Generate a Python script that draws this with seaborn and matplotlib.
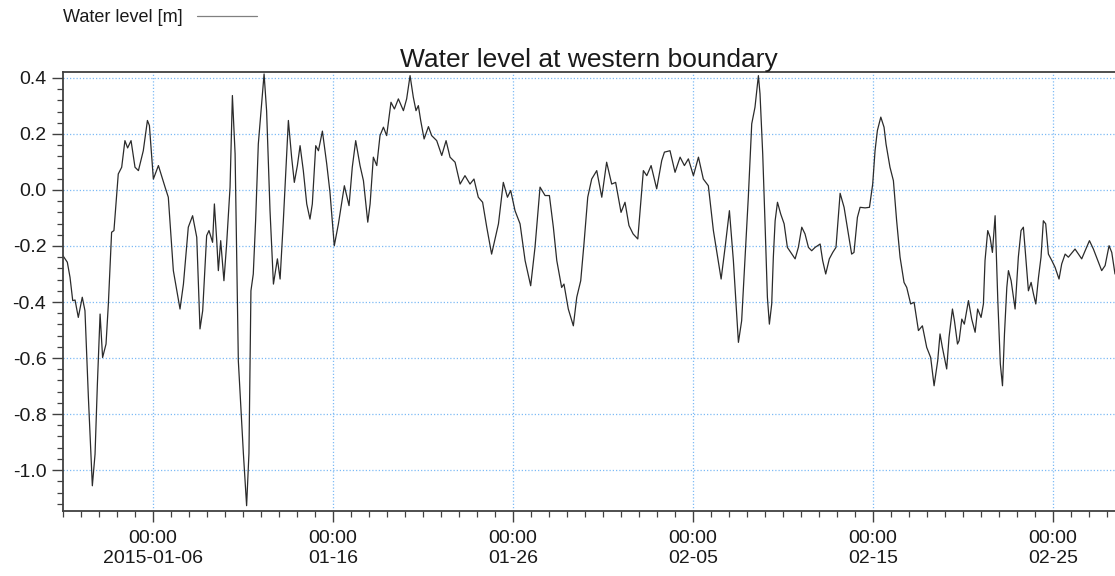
import numpy as np
import pandas as pd
import matplotlib
matplotlib.use("Agg")
import matplotlib.pyplot as plt
import matplotlib.dates as mdates
from matplotlib.lines import Line2D
from matplotlib.ticker import MultipleLocator, FormatStrFormatter
import seaborn as sns

# Time since 2015-01-01 00:00 in days, and the water level in metres
day_offset = [
    0.00, 0.24, 0.39, 0.54, 0.67, 0.85, 1.07, 1.22, 1.41, 1.63, 1.78, 1.91, 2.06, 2.20, 2.39, 2.52,
    2.70, 2.83, 3.07, 3.26, 3.44, 3.59, 3.78, 4.00, 4.19, 4.46, 4.69, 4.80, 5.02, 5.30, 5.67, 5.85,
    6.13, 6.50, 6.69, 6.96, 7.20, 7.43, 7.61, 7.76, 7.98, 8.11, 8.31, 8.41, 8.54, 8.63, 8.76, 8.94,
    9.09, 9.28, 9.41, 9.56, 9.74, 10.02, 10.20, 10.33, 10.44, 10.57, 10.70, 10.85, 11.00, 11.17,
    11.31, 11.50, 11.69, 11.91, 12.06, 12.24, 12.52, 12.70, 12.85, 13.02, 13.17, 13.35, 13.54, 13.72,
    13.85, 14.04, 14.19, 14.41, 14.65, 14.83, 15.07, 15.30, 15.63, 15.89, 16.07, 16.26, 16.50, 16.69,
    16.93, 17.06, 17.24, 17.43, 17.61, 17.80, 17.98, 18.22, 18.41, 18.63, 18.91, 19.09, 19.28, 19.46,
    19.61, 19.74, 19.87, 20.06, 20.30, 20.48, 20.76, 21.04, 21.28, 21.50, 21.78, 22.06, 22.33, 22.61,
    22.83, 23.07, 23.31, 23.54, 23.81, 24.19, 24.46, 24.69, 24.87, 25.11, 25.39, 25.67, 25.98, 26.22,
    26.50, 26.78, 27.02, 27.24, 27.43, 27.70, 27.83, 28.07, 28.35, 28.54, 28.76, 28.94, 29.15, 29.37,
    29.65, 29.93, 30.20, 30.48, 30.70, 31.00, 31.22, 31.44, 31.67, 31.93, 32.24, 32.43, 32.67, 32.98,
    33.26, 33.41, 33.72, 34.00, 34.28, 34.52, 34.74, 35.02, 35.30, 35.57, 35.85, 36.13, 36.56, 36.78,
    37.02, 37.24, 37.52, 37.70, 37.89, 38.07, 38.26, 38.44, 38.63, 38.72, 38.87, 39.00, 39.13, 39.24,
    39.37, 39.46, 39.56, 39.69, 39.87, 40.06, 40.24, 40.43, 40.67, 40.85, 41.04, 41.22, 41.41, 41.59,
    41.78, 42.06, 42.20, 42.37, 42.57, 42.76, 42.94, 43.17, 43.39, 43.57, 43.81, 43.94, 44.13, 44.28,
    44.56, 44.80, 44.98, 45.11, 45.24, 45.43, 45.61, 45.72, 45.94, 46.13, 46.31, 46.50, 46.72, 46.87,
    47.09, 47.28, 47.52, 47.74, 47.98, 48.20, 48.39, 48.59, 48.72, 48.85, 49.09, 49.22, 49.41, 49.52,
    49.69, 49.78, 49.93, 50.07, 50.30, 50.48, 50.67, 50.81, 51.00, 51.13, 51.22, 51.37, 51.50, 51.63,
    51.78, 51.93, 52.07, 52.19, 52.30, 52.43, 52.52, 52.67, 52.89, 53.07, 53.22, 53.35, 53.48, 53.63,
    53.78, 53.91, 54.04, 54.19, 54.33, 54.46, 54.59, 54.74, 54.93, 55.11, 55.33, 55.48, 55.67, 55.85,
    56.22, 56.59, 56.78, 57.02, 57.24, 57.52, 57.70, 57.89, 58.11, 58.26, 58.44,
]
water_level = [
    -0.235, -0.258, -0.312, -0.395, -0.393, -0.455, -0.383, -0.431, -0.740, -1.056, -0.943, -0.693,
    -0.443, -0.598, -0.550, -0.407, -0.151, -0.145, 0.057, 0.081, 0.176, 0.150, 0.176, 0.081, 0.069,
    0.140, 0.248, 0.230, 0.039, 0.087, 0.010, -0.026, -0.288, -0.425, -0.336, -0.133, -0.092, -0.169,
    -0.496, -0.431, -0.163, -0.145, -0.187, -0.050, -0.181, -0.288, -0.181, -0.324, -0.193, 0.010,
    0.337, 0.129, -0.610, -0.940, -1.127, -0.940, -0.360, -0.300, -0.110, 0.164, 0.283, 0.414, 0.283,
    -0.074, -0.336, -0.246, -0.318, -0.110, 0.248, 0.117, 0.027, 0.087, 0.158, 0.069, -0.050, -0.104,
    -0.050, 0.158, 0.140, 0.210, 0.093, -0.008, -0.199, -0.121, 0.015, -0.056, 0.081, 0.176, 0.087,
    0.033, -0.115, -0.050, 0.117, 0.087, 0.194, 0.224, 0.194, 0.313, 0.289, 0.325, 0.283, 0.325,
    0.408, 0.331, 0.283, 0.301, 0.248, 0.182, 0.226, 0.194, 0.176, 0.123, 0.176, 0.117, 0.099, 0.021,
    0.051, 0.021, 0.039, -0.026, -0.044, -0.133, -0.229, -0.121, 0.027, -0.026, -0.002, -0.074, -0.121,
    -0.252, -0.342, -0.205, 0.010, -0.020, -0.020, -0.133, -0.252, -0.348, -0.336, -0.425, -0.485,
    -0.383, -0.324, -0.193, -0.026, 0.039, 0.069, -0.026, 0.099, 0.021, 0.027, -0.080, -0.044, -0.127,
    -0.157, -0.175, 0.069, 0.051, 0.087, 0.004, 0.105, 0.135, 0.140, 0.063, 0.117, 0.087, 0.111, 0.051,
    0.117, 0.039, 0.015, -0.145, -0.318, -0.205, -0.074, -0.252, -0.544, -0.467, -0.240, -0.026, 0.236,
    0.295, 0.408, 0.343, 0.129, -0.121, -0.383, -0.479, -0.407, -0.240, -0.110, -0.044, -0.086, -0.121,
    -0.205, -0.223, -0.246, -0.205, -0.133, -0.157, -0.205, -0.217, -0.205, -0.193, -0.252, -0.300,
    -0.246, -0.223, -0.205, -0.012, -0.062, -0.133, -0.229, -0.223, -0.098, -0.062, -0.064, -0.062,
    0.021, 0.140, 0.212, 0.260, 0.224, 0.164, 0.081, 0.033, -0.110, -0.240, -0.330, -0.348, -0.407,
    -0.401, -0.502, -0.485, -0.562, -0.598, -0.699, -0.610, -0.514, -0.562, -0.639, -0.526, -0.425,
    -0.467, -0.550, -0.538, -0.461, -0.479, -0.395, -0.461, -0.508, -0.425, -0.455, -0.407, -0.252,
    -0.145, -0.169, -0.223, -0.092, -0.395, -0.621, -0.699, -0.514, -0.348, -0.288, -0.324, -0.425,
    -0.240, -0.145, -0.133, -0.240, -0.360, -0.330, -0.371, -0.407, -0.312, -0.240, -0.110, -0.121,
    -0.229, -0.252, -0.276, -0.318, -0.264, -0.229, -0.240, -0.211, -0.246, -0.217, -0.181, -0.211,
    -0.258, -0.288, -0.270, -0.199, -0.223, -0.300,
]

start_time = "2015-01-01 00:00"
major_dates = ["2015-01-06", "2015-01-16", "2015-01-26", "2015-02-05", "2015-02-15", "2015-02-25"]
major_labels = ["00:00\n2015-01-06", "00:00\n01-16", "00:00\n01-26",
                "00:00\n02-05", "00:00\n02-15", "00:00\n02-25"]
series_label = "Water level [m]"
title_text = "Water level at western boundary"

sns.set_theme(style="white")
plt.rcParams["font.family"] = ["Liberation Sans", "DejaVu Sans"]
plt.rcParams["axes.unicode_minus"] = False

times = pd.Timestamp(start_time) + pd.to_timedelta(np.asarray(day_offset), unit="D")
df = pd.DataFrame({"time": times, "level": water_level})

fig = plt.figure(figsize=(11.15, 5.76), dpi=100)
ax = fig.add_axes([63 / 1115, 65 / 576, 1 - 63 / 1115, (511 - 72) / 576])

sns.lineplot(data=df, x="time", y="level", ax=ax, color="#2b2b2b", linewidth=0.9,
             legend=False)

x_end = pd.Timestamp(start_time) + pd.Timedelta(days=58.44)
ax.set_xlim(pd.Timestamp(start_time), x_end)
ax.set_ylim(-1.146, 0.421)

grid_kw = dict(color="#7dbaf5", linewidth=0.9, linestyle=(0, (1, 1.6)))
ax.set_xticks(pd.to_datetime(major_dates))
ax.set_xticklabels(major_labels)
ax.xaxis.set_minor_locator(mdates.DayLocator())
ax.yaxis.set_major_locator(MultipleLocator(0.2))
ax.yaxis.set_minor_locator(MultipleLocator(0.04))
ax.yaxis.set_major_formatter(FormatStrFormatter("%.1f"))
ax.grid(True, which="major", axis="both", **grid_kw)

ax.tick_params(axis="both", which="major", direction="out", length=8, width=1.0,
               color="#404040", labelsize=14, labelcolor="#1a1a1a", pad=4,
               bottom=True, left=True)
ax.tick_params(axis="x", which="major", pad=6)
ax.tick_params(axis="both", which="minor", direction="out", length=4.5, width=0.9,
               color="#404040", bottom=True, left=True)

for side in ("left", "bottom", "top"):
    ax.spines[side].set_visible(True)
    ax.spines[side].set_color("#404040")
    ax.spines[side].set_linewidth(1.3)
ax.spines["right"].set_visible(False)

ax.set_xlabel("")
ax.set_ylabel("")
ax.set_title(title_text, fontsize=19, color="#1a1a1a", pad=2)

legend_handle = Line2D([], [], color="#808080", linewidth=0.9)
fig.legend([legend_handle], [series_label], loc="center left",
           bbox_to_anchor=(63 / 1115, 1 - 18 / 576),
           frameon=False, markerfirst=False, handlelength=3.3, handletextpad=0.8,
           borderpad=0, borderaxespad=0, fontsize=13, labelcolor="#1a1a1a")

fig.savefig("out.png", dpi=100)
